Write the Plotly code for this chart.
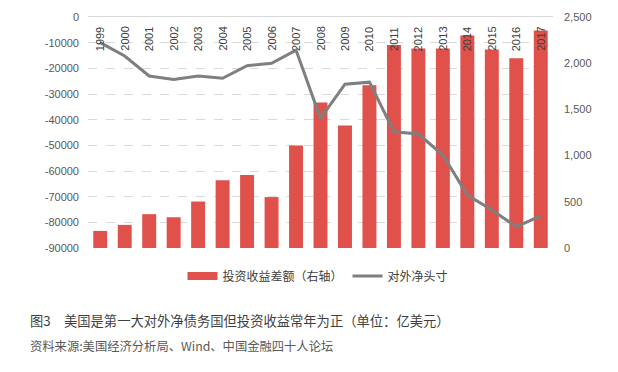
import plotly.graph_objects as go

years = [str(y) for y in range(1999, 2018)]
income_diff = [185, 250, 366, 333, 503, 732, 790, 551, 1109, 1576, 1326, 1761,
               2196, 2160, 2160, 2301, 2149, 2054, 2355]
net_position = [-10000, -15200, -23000, -24300, -23000, -23900, -19000, -18000, -12900,
                -39500, -26200, -25400, -44700, -45600, -53800, -69400, -75200, -81700, -77500]
left_ticks = list(range(-90000, 1, 10000))
left_labels = [str(v) for v in left_ticks]
right_ticks = [0, 500, 1000, 1500, 2000, 2500]
right_labels = ["0", "500", "1,000", "1,500", "2,000", "2,500"]
bar_name = "投资收益差额（右轴）"
line_name = "对外净头寸"
caption1 = "图3　美国是第一大对外净债务国但投资收益常年为正（单位：亿美元）"
caption2 = "资料来源:美国经济分析局、Wind、中国金融四十人论坛"

font_cjk = "Noto Sans CJK SC, Noto Sans, sans-serif"
font_num = "Liberation Sans, Arial, sans-serif"
RED = "#DF514A"
GREY = "#7F7F7F"

fig = go.Figure()
fig.add_trace(go.Bar(x=years, y=income_diff, name=bar_name, yaxis="y", showlegend=False,
                     legendgroup="bar",
                     marker=dict(color=RED, line=dict(width=0)), width=0.57))
# legend swatch for the bars (wide flat rectangle like the original)
fig.add_trace(go.Scatter(x=[None], y=[None], name=bar_name, yaxis="y", mode="lines",
                         legendgroup="bar", line=dict(color=RED, width=8)))
fig.add_trace(go.Scatter(x=years, y=net_position, name=line_name, yaxis="y2",
                         mode="lines", line=dict(color=GREY, width=3)))

# page offset (browser body margin)
OX, OY = 8, 8
W, H = 618 - OX, 372 - OY
L, R, T, B = 88 - OX, 65, 17 - OY, 124
pw, ph = W - L - R, H - T - B
plot_top_page = OY + T
plot_bot_page = OY + T + ph
plot_left_page = OX + L


def py(page_y):
    return (plot_bot_page - page_y) / ph


def px(page_x):
    return (page_x - plot_left_page) / pw


annotations = []
for i, yr in enumerate(years):
    annotations.append(dict(x=i, y=1, xref="x", yref="paper", text=yr, textangle=-90,
                            showarrow=False, yanchor="top", yshift=-8,
                            font=dict(family=font_num, size=11, color="#404040")))
annotations.append(dict(x=px(28), y=py(320), xref="paper", yref="paper",
                        text=caption1, showarrow=False, xanchor="left", yanchor="middle",
                        font=dict(family=font_cjk, size=13.3, color="#3F3F3F")))
annotations.append(dict(x=px(28), y=py(346), xref="paper", yref="paper",
                        text=caption2, showarrow=False, xanchor="left", yanchor="middle",
                        font=dict(family=font_cjk, size=12.3, color="#595959")))

fig.update_layout(
    width=W, height=H,
    margin=dict(l=L, r=R, t=T, b=B, autoexpand=False),
    paper_bgcolor="white", plot_bgcolor="white",
    showlegend=True,
    legend=dict(orientation="h", x=px(318), xanchor="center", y=py(276), yanchor="middle",
                font=dict(family=font_cjk, size=12, color="#404040"), traceorder="normal",
                itemwidth=30, tracegroupgap=0),
    xaxis=dict(type="category", showticklabels=False, ticks="", showgrid=False,
               showline=True, linecolor="#D9D9D9", linewidth=1, side="top",
               range=[-0.5, len(years) - 0.5], fixedrange=True),
    yaxis=dict(side="right", range=[0, 2500], tickvals=right_ticks, ticktext=right_labels,
               showgrid=False, zeroline=False, showline=False, ticks="",
               tickfont=dict(family=font_num, size=11, color="#595959"),
               ticklabelstandoff=10),
    yaxis2=dict(side="left", overlaying="y", range=[-90000, 0], tickvals=left_ticks,
                ticktext=left_labels,
                showgrid=True, gridcolor="#D9D9D9", griddash="dash", gridwidth=1,
                zeroline=False, showline=False, ticks="",
                tickfont=dict(family=font_num, size=11, color="#595959"),
                ticklabelstandoff=8),
    annotations=annotations,
    bargap=0.43,
)

fig.write_html("out.html")
